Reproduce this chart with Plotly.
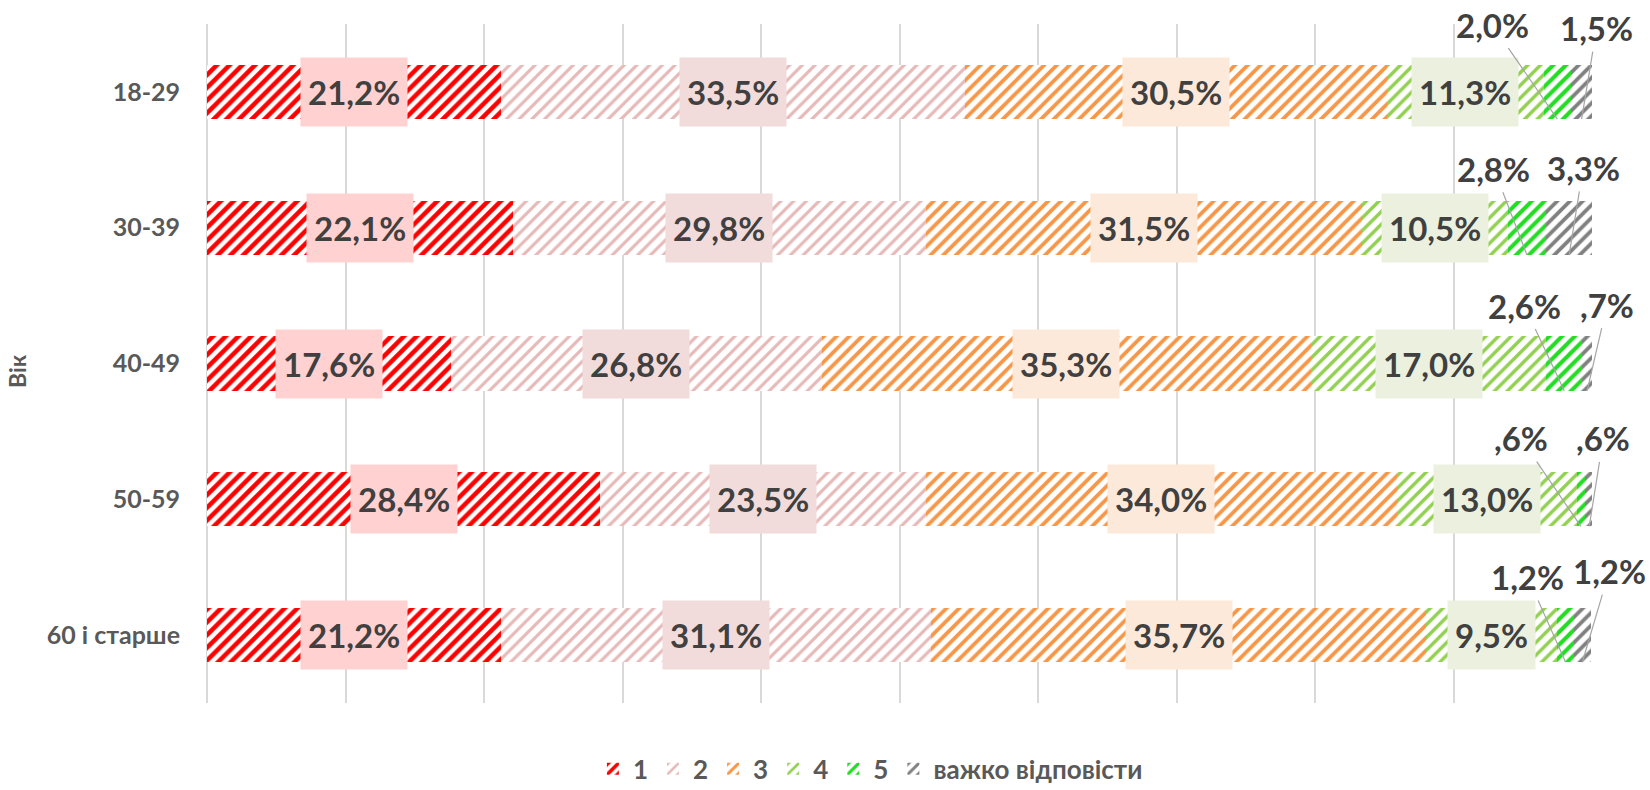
import plotly.graph_objects as go

categories = ["18-29", "30-39", "40-49", "50-59", "60 і старше"]
series_names = ["1", "2", "3", "4", "5", "важко відповісти"]
s1 = [21.2, 22.1, 17.6, 28.4, 21.2]
s2 = [33.5, 29.8, 26.8, 23.5, 31.1]
s3 = [30.5, 31.5, 35.3, 34.0, 35.7]
s4 = [11.3, 10.5, 17.0, 13.0, 9.5]
s5 = [2.0, 2.8, 2.6, 0.6, 1.2]
s6 = [1.5, 3.3, 0.7, 0.6, 1.2]
series_values = [s1, s2, s3, s4, s5, s6]

# styles
colors = ["#FF0000", "#E6B9B8", "#F79646", "#92D050", "#22DD22", "#808080"]
label_bg = ["#FFD1D1", "#F2DCDB", "#FDE9D9", "#EBF1DE", None, None]
solidity = [0.5, 0.35, 0.42, 0.38, 0.45, 0.42]
# pixel offsets (ax, ay) for outside labels of the last two series, per category
outside_offsets = {
    4: [(-65, -94), (-33, -86), (-40, -85), (-60, -88), (-38, -85)],
    5: [(15, -91), (14, -87), (20, -86), (14, -88), (27, -91)],
}

FONT = "Lato"
TXT = "#404040"
AX = "#595959"


def fmt(v):
    s = f"{v:.1f}".replace(".", ",")
    if s.startswith("0"):
        s = s[1:]
    return s + "%"


fig = go.Figure()
for k, (name, vals) in enumerate(zip(series_names, series_values)):
    fig.add_trace(go.Bar(
        y=categories, x=vals, name=name, orientation="h",
        marker=dict(color="white",
                    line=dict(width=0),
                    pattern=dict(shape="/", fgcolor=colors[k], bgcolor="white",
                                 size=9, solidity=solidity[k], fillmode="replace",
                                 fgopacity=1)),
        hoverinfo="x+y+name",
    ))

annotations = []
half = 0.2  # half bar thickness in category units (bargap 0.6)
for i, cat in enumerate(categories):
    cum = 0.0
    for k, vals in enumerate(series_values):
        v = vals[i]
        center = cum + v / 2
        cum += v
        if k < 4:
            annotations.append(dict(
                x=center, y=cat, xref="x", yref="y", text=fmt(v), showarrow=False,
                font=dict(family=FONT, size=33, color=TXT, weight="bold"),
                bgcolor=label_bg[k], height=54, borderpad=7,
                xanchor="center", yanchor="middle",
            ))
        else:
            ax, ay = outside_offsets[k][i]
            annotations.append(dict(
                x=center, y=i + half, xref="x", yref="y", text=fmt(v),
                showarrow=True, arrowhead=0, arrowwidth=1.2, arrowcolor="#A6A6A6",
                ax=ax, ay=ay, standoff=0, startstandoff=2,
                font=dict(family=FONT, size=33, color=TXT, weight="bold"),
                xanchor="center", yanchor="middle",
            ))

annotations.append(dict(
    x=(17 - 207) / 1385, y=(703 - 371) / 679, xref="paper", yref="paper",
    xanchor="center", yanchor="middle",
    text="Вік", textangle=-90, showarrow=False,
    font=dict(family=FONT, size=23, color=AX, weight="bold"),
))

fig.update_layout(
    barmode="stack",
    bargap=0.6,
    width=1650, height=790,
    margin=dict(l=207, r=58, t=24, b=87, autoexpand=False),
    paper_bgcolor="white", plot_bgcolor="white",
    showlegend=True,
    legend=dict(orientation="h", x=0.479, xanchor="center", y=-0.097, yanchor="middle",
                font=dict(family=FONT, size=26, color=AX, weight="bold"),
                traceorder="normal", itemwidth=30),
    xaxis=dict(range=[0, 100], autorange=False, dtick=10, showgrid=True,
               gridcolor="#D9D9D9", gridwidth=1.5,
               showticklabels=False, zeroline=True, zerolinecolor="#D9D9D9",
               zerolinewidth=1.5, showline=False, fixedrange=True),
    yaxis=dict(range=[4.5, -0.5], autorange=False, showgrid=False, zeroline=False,
               showline=False,
               tickfont=dict(family=FONT, size=25, color=AX, weight="bold"),
               ticks="", ticklabelstandoff=26, fixedrange=True),
    annotations=annotations,
)

fig.write_html("out.html", config={"displayModeBar": False},
               post_script="document.body.style.margin='0';")
